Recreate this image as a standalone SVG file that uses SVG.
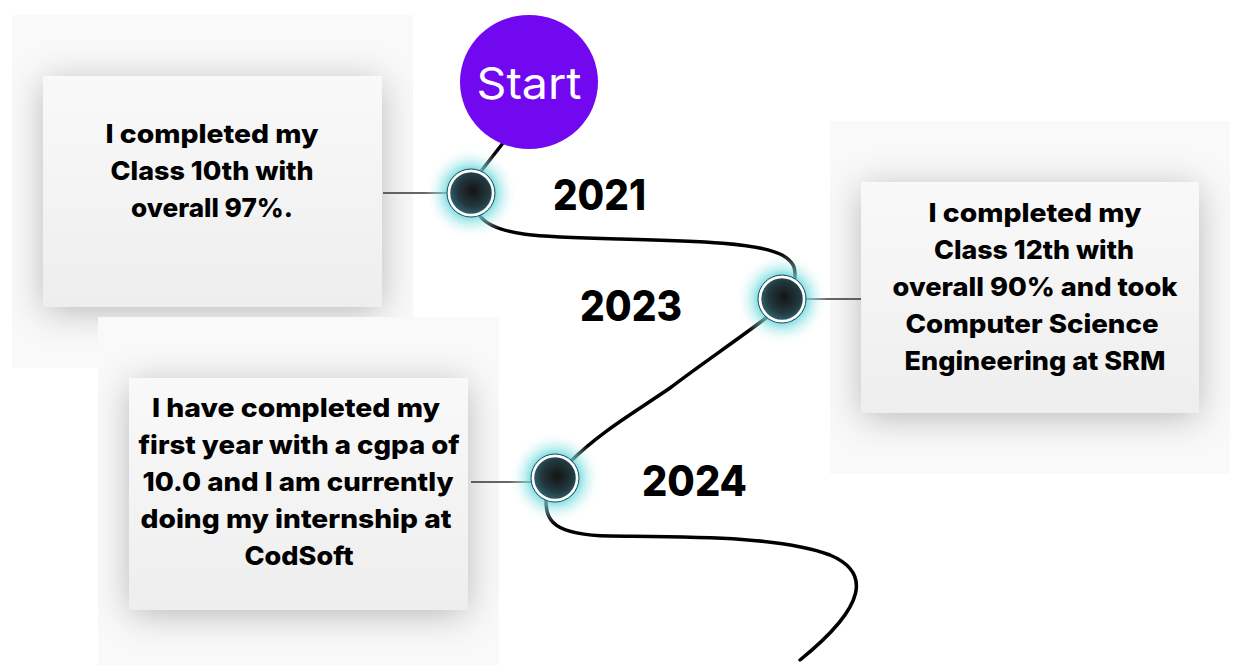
<svg xmlns="http://www.w3.org/2000/svg" width="1247" height="665" viewBox="0 0 1247 665">
<defs>
<style>
.card{fill:url(#cardGrad);filter:url(#cardShadow)}
.txt{font-family:Inter,"Noto Sans",sans-serif;font-weight:800;font-size:26px;fill:#000;text-anchor:middle}
.year{font-family:Inter,"Noto Sans",sans-serif;font-weight:800;font-size:42px;fill:#000}
.link{stroke:#333;stroke-width:1.6;fill:none}
.path{stroke:#000;stroke-width:3.5;fill:none;stroke-linecap:round}
.glow{fill:url(#glowGrad)}
.dot{fill:url(#dotGrad);stroke:#fff;stroke-width:2.5}
.ring{fill:none;stroke:#254850;stroke-width:1}
</style>
<linearGradient id="cardGrad" x1="0" y1="0" x2="0" y2="1">
<stop offset="0" stop-color="#f9f9f9"/>
<stop offset="1" stop-color="#eeeeee"/>
</linearGradient>
<radialGradient id="glowGrad" cx="0.5" cy="0.5" r="0.5">
<stop offset="0.4" stop-color="#3fc6d6" stop-opacity="1"/>
<stop offset="0.65" stop-color="#8de2e4" stop-opacity="0.55"/>
<stop offset="1" stop-color="#ffffff" stop-opacity="0"/>
</radialGradient>
<radialGradient id="dotGrad" cx="0.55" cy="0.45" r="0.6">
<stop offset="0" stop-color="#141414"/>
<stop offset="0.6" stop-color="#22393f"/>
<stop offset="1" stop-color="#336a7a"/>
</radialGradient>
<filter id="cardShadow" x="-9%" y="-26%" width="118%" height="152%">
<feFlood flood-color="#f9f9f9" result="bg"/>
<feGaussianBlur in="SourceAlpha" stdDeviation="18" result="b"/>
<feOffset in="b" dy="5" result="o"/>
<feColorMatrix in="o" type="matrix" values="0 0 0 0 0.35  0 0 0 0 0.35  0 0 0 0 0.35  0 0 0 0.85 0" result="s"/>
<feMerge><feMergeNode in="bg"/><feMergeNode in="s"/><feMergeNode in="SourceGraphic"/></feMerge>
</filter>
</defs>
<rect width="1247" height="665" fill="#fff"/>

<g id="card1">
<rect class="card" x="43" y="76" width="339" height="231"/>
<text class="txt" x="212" y="143" textLength="213" lengthAdjust="spacingAndGlyphs">I completed my</text>
<text class="txt" x="212" y="180" textLength="203" lengthAdjust="spacingAndGlyphs">Class 10th with</text>
<text class="txt" x="212" y="217" textLength="162" lengthAdjust="spacingAndGlyphs">overall 97%.</text>
</g>

<g id="card2">
<rect class="card" x="861" y="182" width="338" height="231"/>
<text class="txt" x="1035" y="222" textLength="213" lengthAdjust="spacingAndGlyphs">I completed my</text>
<text class="txt" x="1034" y="259" textLength="200" lengthAdjust="spacingAndGlyphs">Class 12th with</text>
<text class="txt" x="1035" y="296" textLength="285" lengthAdjust="spacingAndGlyphs">overall 90% and took</text>
<text class="txt" x="1032" y="333" textLength="253" lengthAdjust="spacingAndGlyphs">Computer Science</text>
<text class="txt" x="1035" y="370" textLength="261" lengthAdjust="spacingAndGlyphs">Engineering at SRM</text>
</g>

<g id="card3">
<rect class="card" x="129" y="378" width="339" height="232"/>
<text class="txt" x="296" y="417" textLength="288" lengthAdjust="spacingAndGlyphs">I have completed my</text>
<text class="txt" x="299" y="454" textLength="321" lengthAdjust="spacingAndGlyphs">first year with a cgpa of</text>
<text class="txt" x="298" y="491" textLength="311" lengthAdjust="spacingAndGlyphs">10.0 and I am currently</text>
<text class="txt" x="296" y="528" textLength="311" lengthAdjust="spacingAndGlyphs">doing my internship at</text>
<text class="txt" x="299" y="565" textLength="109" lengthAdjust="spacingAndGlyphs">CodSoft</text>
</g>

<g id="connectors">
<line class="link" x1="383" y1="193" x2="448" y2="193"/>
<line class="link" x1="805" y1="299" x2="861" y2="299"/>
<line class="link" x1="471" y1="482" x2="533" y2="482"/>
<path class="path" d="M503,143 L482,170"/>
<path class="path" d="M480,216 C495,236 540,237 620,239 C700,241 760,243 782,255 C796,263 795,270 795,278"/>
<path class="path" d="M766,318 C730,345 700,365 670,388 C635,412 600,432 570,462"/>
<path class="path" d="M546,500 C546,520 552,535 610,536 C690,537 780,536 830,555 C870,572 868,605 800,660"/>
</g>

<g id="start">
<ellipse cx="529" cy="82" rx="69" ry="67" fill="#7208f0"/>
<text x="529" y="99" font-family="Inter,'Noto Sans',sans-serif" font-size="44" fill="#fff" text-anchor="middle" textLength="105" lengthAdjust="spacingAndGlyphs">Start</text>
</g>

<g id="node2021">
<circle class="glow" cx="471" cy="193" r="46"/>
<circle class="ring" cx="471" cy="193" r="24"/>
<circle class="dot" cx="471" cy="193" r="22"/>
<text class="year" x="553" y="210" textLength="93" lengthAdjust="spacingAndGlyphs">2021</text>
</g>

<g id="node2023">
<circle class="glow" cx="782" cy="299" r="46"/>
<circle class="ring" cx="782" cy="299" r="24"/>
<circle class="dot" cx="782" cy="299" r="22"/>
<text class="year" x="580" y="321" textLength="102" lengthAdjust="spacingAndGlyphs">2023</text>
</g>

<g id="node2024">
<circle class="glow" cx="555" cy="478" r="46"/>
<circle class="ring" cx="555" cy="478" r="24"/>
<circle class="dot" cx="555" cy="478" r="22"/>
<text class="year" x="642" y="496" textLength="105" lengthAdjust="spacingAndGlyphs">2024</text>
</g>
</svg>
